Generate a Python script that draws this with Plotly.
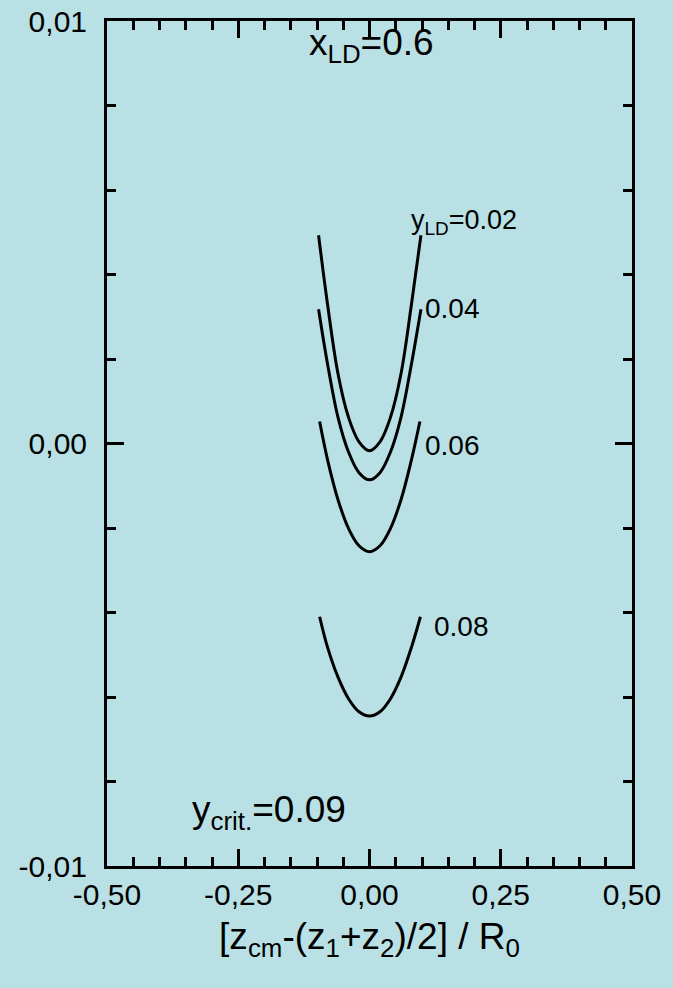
import plotly.graph_objects as go

# Data
x_pts = [-0.097, -0.08, -0.06, -0.04, -0.02, 0.0, 0.02, 0.04, 0.06, 0.08, 0.098]
y_002 = [0.00493, 0.00330, 0.00165, 0.00062, 0.00004, -0.00017, 0.00004, 0.00062, 0.00165, 0.00330, 0.00493]
y_004 = [0.00318, 0.00189, 0.00062, -0.00020, -0.00069, -0.00086, -0.00069, -0.00020, 0.00062, 0.00189, 0.00318]
x_006 = [-0.095, -0.08, -0.06, -0.04, -0.02, 0.0, 0.02, 0.04, 0.06, 0.08, 0.096]
y_006 = [0.00052, -0.00038, -0.00133, -0.00201, -0.00242, -0.00256, -0.00242, -0.00201, -0.00133, -0.00038, 0.00052]
x_008 = [-0.095, -0.08, -0.06, -0.04, -0.02, 0.0, 0.02, 0.04, 0.06, 0.08, 0.097]
y_008 = [-0.0041, -0.00482, -0.00553, -0.00604, -0.00635, -0.00645, -0.00635, -0.00604, -0.00553, -0.00482, -0.0041]

series = [
    (x_pts, y_002),
    (x_pts, y_004),
    (x_006, y_006),
    (x_008, y_008),
]

x_tickvals = [-0.5, -0.25, 0.0, 0.25, 0.5]
x_ticktext = ["-0,50", "-0,25", "0,00", "0,25", "0,50"]
y_tickvals = [-0.01, 0.0, 0.01]
y_ticktext = ["-0,01", "0,00", "0,01"]

BG = "rgb(185,224,228)"
FONT = "Liberation Sans, Arial, sans-serif"

fig = go.Figure()
for xs, ys in series:
    fig.add_trace(go.Scatter(x=xs, y=ys, mode="lines",
                             line=dict(color="black", width=3, shape="spline"),
                             showlegend=False, hoverinfo="skip"))

axis_common = dict(showline=True, linecolor="black", linewidth=3, mirror="allticks",
                   ticks="inside", ticklen=17, tickwidth=2.5, tickcolor="black",
                   showgrid=False, zeroline=False, automargin=False,
                   tickfont=dict(family=FONT, size=30, color="black"))

fig.update_xaxes(range=[-0.5, 0.5], tickvals=x_tickvals, ticktext=x_ticktext,
                 minor=dict(ticks="inside", ticklen=9, tickwidth=2.5, tickcolor="black", dtick=0.05, tick0=0),
                 title=dict(text="[z<sub>cm</sub>-(z<sub>1</sub>+z<sub>2</sub>)/2] / R<sub>0</sub>",
                            font=dict(family=FONT, size=37, color="black"), standoff=14),
                 ticklabelstandoff=0,
                 **axis_common)
fig.update_yaxes(range=[-0.01, 0.01], tickvals=y_tickvals, ticktext=y_ticktext,
                 minor=dict(ticks="inside", ticklen=9, tickwidth=2.5, tickcolor="black", dtick=0.002, tick0=0),
                 ticklabelstandoff=11,
                 **axis_common)

ann_font = dict(family=FONT, size=28, color="black")
big_font = dict(family=FONT, size=37, color="black")
fig.add_annotation(x=0.003, y=0.00943, text="x<sub>LD</sub>=0.6", showarrow=False,
                   font=big_font, xanchor="center", yanchor="middle")
fig.add_annotation(x=-0.342, y=-0.00872, text="y<sub>crit.</sub>=0.09", showarrow=False,
                   font=big_font, xanchor="left", yanchor="middle")
fig.add_annotation(x=0.075, y=0.00524, text="y<sub>LD</sub>=0.02", showarrow=False,
                   font=dict(family=FONT, size=27, color="black"), xanchor="left", yanchor="middle")
fig.add_annotation(x=0.102, y=0.0032, text="0.04", showarrow=False,
                   font=ann_font, xanchor="left", yanchor="middle")
fig.add_annotation(x=0.102, y=-0.00004, text="0.06", showarrow=False,
                   font=ann_font, xanchor="left", yanchor="middle")
fig.add_annotation(x=0.119, y=-0.00434, text="0.08", showarrow=False,
                   font=ann_font, xanchor="left", yanchor="middle")

fig.update_layout(width=673, height=988, paper_bgcolor=BG, plot_bgcolor=BG,
                  margin=dict(l=107, r=41, t=21, b=122, pad=0),
                  font=dict(family=FONT, color="black"))

fig.write_html("out.html", config={"displayModeBar": False},
               post_script="document.body.style.margin='0';document.body.style.background='rgb(185,224,228)';")
